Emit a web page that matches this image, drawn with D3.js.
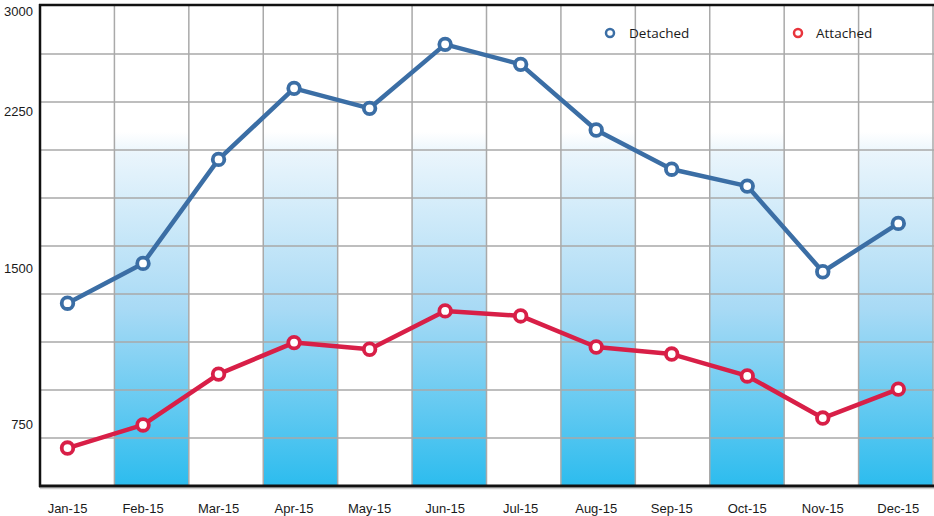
<!DOCTYPE html>
<html lang="en">
  <head>
    <meta charset="utf-8">
    <title>Detached vs Attached</title>
    <script src="https://d3js.org/d3.v7.min.js"></script>
    <style>
      body { margin: 0; background: #fff; }
      .tick-label { font-family: "Liberation Sans", Arial, sans-serif; font-size: 13px; fill: #1a1a1a; }
      .legend-label { font-family: "Open Sans", sans-serif; font-size: 13.5px; fill: #1a1a1a; }
    </style>
  </head>
  <body>
    <div id="chart"></div>
    <script>

// data
var months = ["Jan-15", "Feb-15", "Mar-15", "Apr-15", "May-15", "Jun-15",
              "Jul-15", "Aug-15", "Sep-15", "Oct-15", "Nov-15", "Dec-15"];
var detached = [1331, 1522, 2021, 2362, 2266, 2573, 2477, 2162, 1974, 1893, 1482, 1714];
var attached = [636, 747, 991, 1142, 1110, 1294, 1270, 1121, 1087, 982, 780, 919];
var yTicks = [750, 1500, 2250, 3000];
var seriesNames = ["Detached", "Attached"];

var w = 934, h = 516;
var plot = {left: 40, right: 933, top: 6, bottom: 486};

var svg = d3.select("#chart").append("svg")
    .attr("width", w)
    .attr("height", h);

// gradient for the shaded columns
var defs = svg.append("defs");
var grad = defs.append("linearGradient")
    .attr("id", "colGrad")
    .attr("x1", 0).attr("y1", 0).attr("x2", 0).attr("y2", 1);
grad.append("stop").attr("offset", "0%").attr("stop-color", "#ffffff");
grad.append("stop").attr("offset", "6%").attr("stop-color", "#eaf5fc");
grad.append("stop").attr("offset", "50%").attr("stop-color", "#a8daf5");
grad.append("stop").attr("offset", "100%").attr("stop-color", "#2cbcee");

// scales
var colScale = d3.scaleBand()
    .domain(months)
    .range([plot.left, plot.right])
    .padding(0);

var xScale = d3.scalePoint()
    .domain(months)
    .range([67.5, 898.3]);

// 750 per 156.3px, top of plot clamps the 3000 label
var yScale = d3.scaleLinear()
    .domain([454, 2757])
    .range([plot.bottom, plot.top])
    .clamp(true);

var gridScale = d3.scaleLinear()
    .domain([0, 10])
    .range([plot.bottom, plot.top]);

// shaded columns
var shadeTop = 132;
svg.append("g")
    .selectAll("rect")
    .data(months.filter((d, i) => i % 2 == 1))
    .enter().append("rect")
    .attr("x", d => colScale(d))
    .attr("y", shadeTop)
    .attr("width", colScale.bandwidth())
    .attr("height", plot.bottom - shadeTop)
    .attr("fill", "url(#colGrad)");

// grid
var grid = svg.append("g").attr("stroke", "#a9a9a9").attr("stroke-width", 1.5);
grid.selectAll(".hgrid")
    .data(d3.range(1, 10))
    .enter().append("line")
    .attr("x1", plot.left).attr("x2", w)
    .attr("y1", d => gridScale(d)).attr("y2", d => gridScale(d));
grid.selectAll(".vgrid")
    .data(months.slice(1).concat(["end"]))
    .enter().append("line")
    .attr("x1", (d, i) => plot.left + colScale.step() * (i + 1))
    .attr("x2", (d, i) => plot.left + colScale.step() * (i + 1))
    .attr("y1", plot.top).attr("y2", plot.bottom);

// frame
svg.append("line")
    .attr("x1", plot.left).attr("x2", w)
    .attr("y1", plot.bottom + 2.5).attr("y2", plot.bottom + 2.5)
    .attr("stroke", "#cfcfcf").attr("stroke-width", 1.5);
svg.append("line")
    .attr("x1", plot.left - 1).attr("x2", w)
    .attr("y1", plot.top - 1).attr("y2", plot.top - 1)
    .attr("stroke", "#111").attr("stroke-width", 2.5);
svg.append("line")
    .attr("x1", plot.left - 1).attr("x2", w)
    .attr("y1", plot.bottom).attr("y2", plot.bottom)
    .attr("stroke", "#111").attr("stroke-width", 3);
svg.append("line")
    .attr("x1", plot.left).attr("x2", plot.left)
    .attr("y1", plot.top - 2).attr("y2", plot.bottom + 1)
    .attr("stroke", "#111").attr("stroke-width", 2.5);

// y labels
svg.append("g")
    .selectAll("text")
    .data(yTicks)
    .enter().append("text")
    .attr("class", "tick-label")
    .attr("x", 33)
    .attr("y", d => Math.max(yScale(d), 11))
    .attr("dy", "0.35em")
    .attr("text-anchor", "end")
    .text(d => d);

// x labels
svg.append("g")
    .selectAll("text")
    .data(months)
    .enter().append("text")
    .attr("class", "tick-label")
    .attr("x", d => xScale(d))
    .attr("y", 508)
    .attr("dy", "0.35em")
    .attr("text-anchor", "middle")
    .text(d => d);

// lines
var series = [
  {name: seriesNames[0], values: detached, color: "#3b6ea5", legendColor: "#3b6ea5"},
  {name: seriesNames[1], values: attached, color: "#d81f47", legendColor: "#e8343c"}
];

var line = d3.line()
    .x((d, i) => xScale(months[i]))
    .y(d => yScale(d));

series.forEach(function(s) {
  svg.append("path")
      .datum(s.values)
      .attr("d", line)
      .attr("fill", "none")
      .attr("stroke", s.color)
      .attr("stroke-width", 4.5)
      .attr("stroke-linejoin", "round");

  svg.append("g")
      .selectAll("circle")
      .data(s.values)
      .enter().append("circle")
      .attr("cx", (d, i) => xScale(months[i]))
      .attr("cy", d => yScale(d))
      .attr("r", 5.8)
      .attr("fill", "#fff")
      .attr("stroke", s.color)
      .attr("stroke-width", 3.8);
});

// legend
var legendX = [610, 798];
var legend = svg.append("g")
    .selectAll("g")
    .data(series)
    .enter().append("g")
    .attr("transform", (d, i) => `translate(${legendX[i]}, 33)`);
legend.append("circle")
    .attr("r", 4)
    .attr("fill", "#fff")
    .attr("stroke", d => d.legendColor)
    .attr("stroke-width", 2.5);
legend.append("text")
    .attr("class", "legend-label")
    .attr("x", (d, i) => i == 0 ? 19 : 18)
    .attr("dy", "0.35em")
    .text(d => d.name);

    </script>
  </body>
</html>
